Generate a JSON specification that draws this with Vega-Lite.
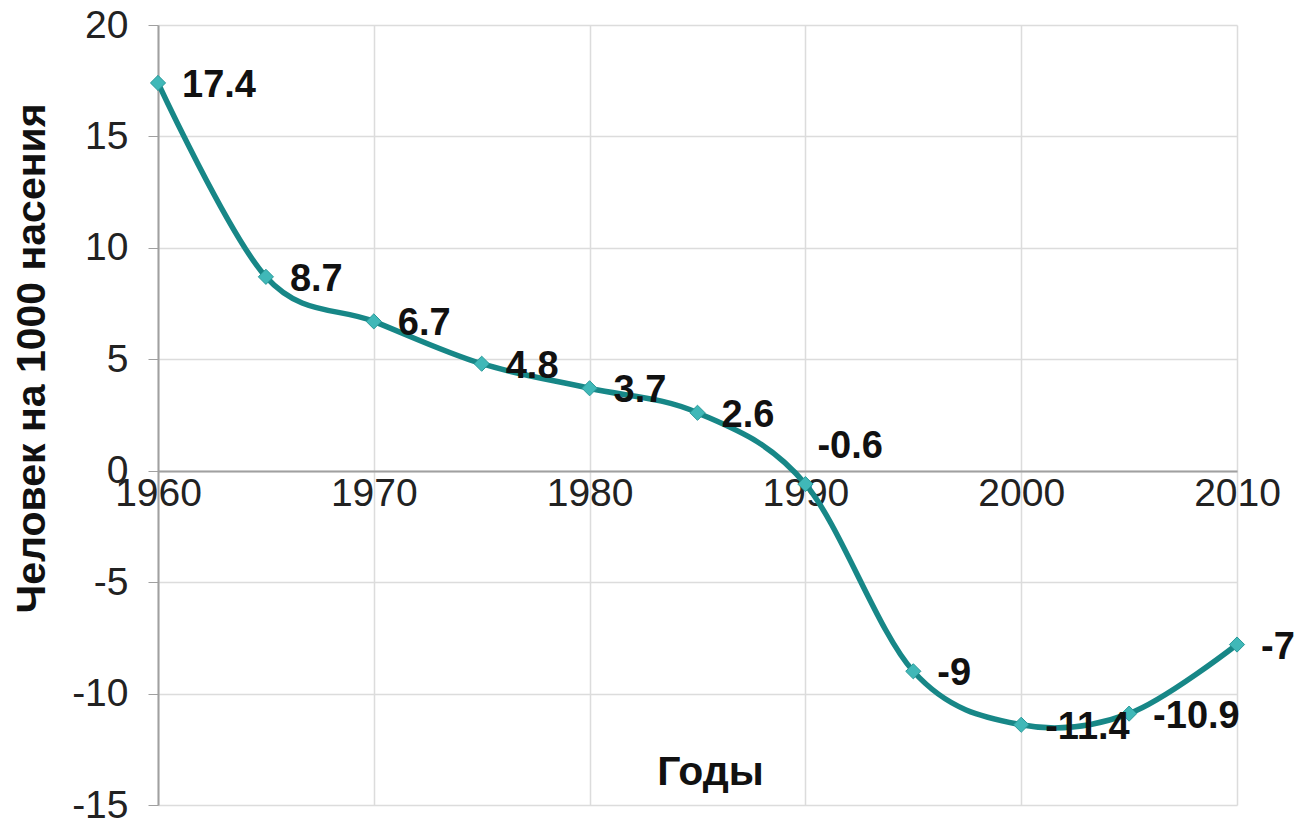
{
  "$schema": "https://vega.github.io/schema/vega-lite/v6.json",
  "width": 1079,
  "height": 780,
  "autosize": {"type": "none"},
  "padding": {"left": 158, "top": 25, "right": 62, "bottom": 15},
  "background": "white",
  "config": {
    "view": {"stroke": null},
    "font": "Liberation Sans"
  },
  "data": {
    "values": [
      {"year": 1960, "value": 17.4, "label": "17.4"},
      {"year": 1965, "value": 8.7, "label": "8.7"},
      {"year": 1970, "value": 6.7, "label": "6.7"},
      {"year": 1975, "value": 4.8, "label": "4.8"},
      {"year": 1980, "value": 3.7, "label": "3.7"},
      {"year": 1985, "value": 2.6, "label": "2.6"},
      {"year": 1990, "value": -0.6, "label": "-0.6"},
      {"year": 1995, "value": -9, "label": "-9"},
      {"year": 2000, "value": -11.4, "label": "-11.4"},
      {"year": 2005, "value": -10.9, "label": "-10.9"},
      {"year": 2010, "value": -7.8, "label": "-7"}
    ]
  },
  "encoding": {
    "x": {
      "field": "year",
      "type": "quantitative",
      "scale": {"domain": [1960, 2010], "nice": false, "zero": false},
      "axis": {
        "values": [1960, 1970, 1980, 1990, 2000, 2010],
        "format": "d",
        "offset": -334,
        "grid": true,
        "gridColor": "#dcdcdc",
        "gridWidth": 1.5,
        "domainColor": "#a0a0a0",
        "domainWidth": 2,
        "ticks": false,
        "labelPadding": 3,
        "labelFontSize": 39,
        "labelColor": "#222222",
        "labelFlush": false,
        "title": "Годы",
        "titleFontSize": 41,
        "titleFontWeight": "bold",
        "titleColor": "#111111",
        "titleX": 552,
        "titleY": 301,
        "titleBaseline": "middle",
        "titleAlign": "center"
      }
    },
    "y": {
      "field": "value",
      "type": "quantitative",
      "scale": {"domain": [-15, 20], "nice": false},
      "axis": {
        "values": [-15, -10, -5, 0, 5, 10, 15, 20],
        "labelExpr": "'' + datum.value",
        "grid": true,
        "gridColor": "#dcdcdc",
        "gridWidth": 1.5,
        "domainColor": "#a0a0a0",
        "domainWidth": 2,
        "tickColor": "#a0a0a0",
        "tickSize": 10,
        "labelPadding": 20,
        "labelFontSize": 39,
        "labelColor": "#222222",
        "labelFlush": false,
        "title": "Человек на 1000 насения",
        "titleFontSize": 41,
        "titleFontWeight": "bold",
        "titleColor": "#111111",
        "titleAngle": -90,
        "titleX": -126,
        "titleY": 333,
        "titleAlign": "center",
        "titleBaseline": "middle"
      }
    }
  },
  "layer": [
    {
      "mark": {
        "type": "line",
        "interpolate": "cardinal",
        "color": "#178787",
        "strokeWidth": 5.5
      }
    },
    {
      "mark": {
        "type": "point",
        "shape": "diamond",
        "filled": true,
        "size": 230,
        "fill": "#40b8b8",
        "stroke": "#2a9a9a",
        "strokeWidth": 1,
        "opacity": 1
      }
    },
    {
      "transform": [{"filter": "datum.year != 1990"}],
      "mark": {
        "type": "text",
        "align": "left",
        "baseline": "middle",
        "dx": 24,
        "dy": 3,
        "fontSize": 38,
        "fontWeight": "bold",
        "color": "#111111"
      },
      "encoding": {"text": {"field": "label"}}
    },
    {
      "transform": [{"filter": "datum.year == 1990"}],
      "mark": {
        "type": "text",
        "align": "left",
        "baseline": "middle",
        "dx": 12,
        "dy": -37,
        "fontSize": 38,
        "fontWeight": "bold",
        "color": "#111111"
      },
      "encoding": {"text": {"field": "label"}}
    }
  ]
}
